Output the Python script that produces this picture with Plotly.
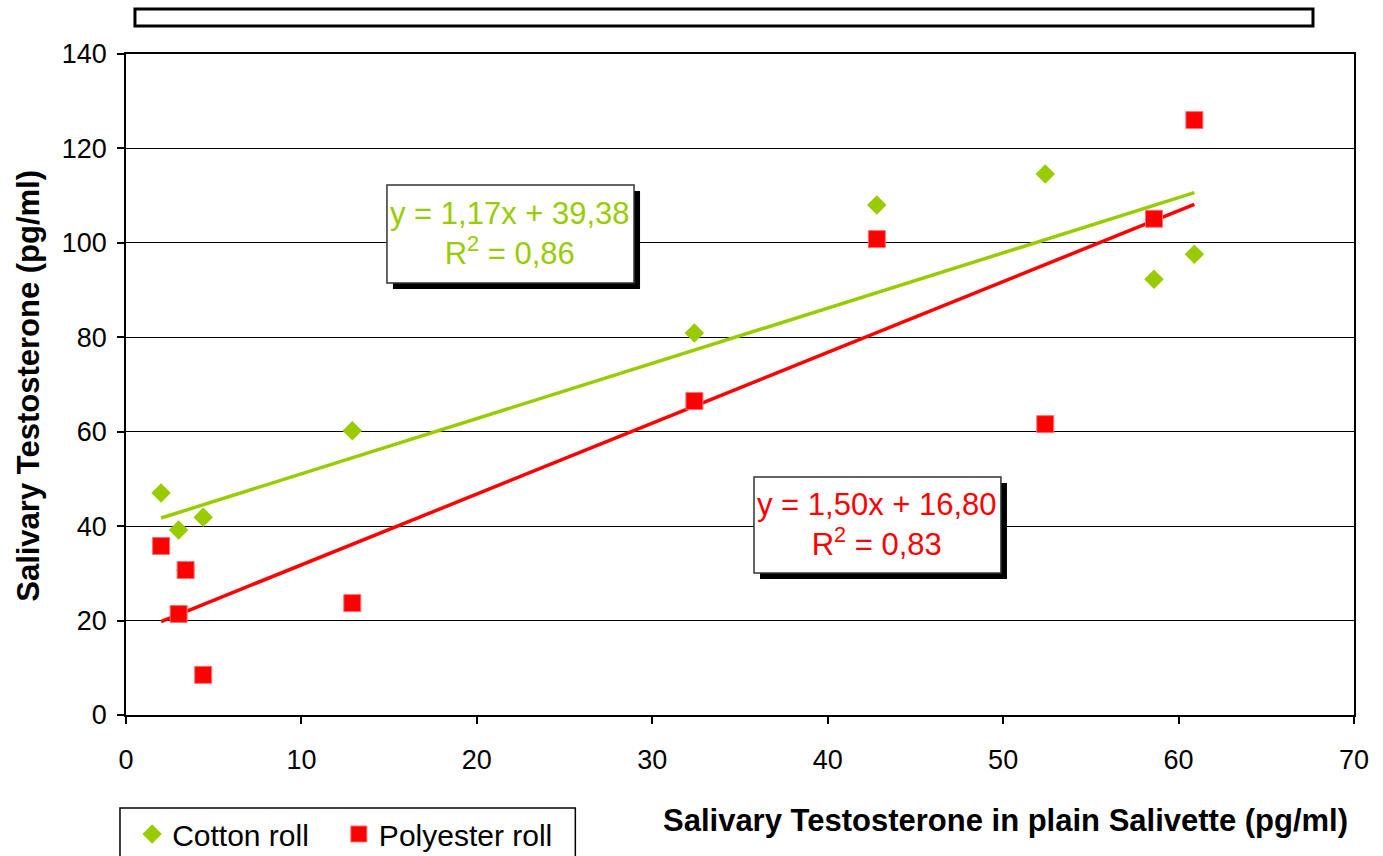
import plotly.graph_objects as go

# ---- data ----
plain_salivette = [2.0, 3.0, 3.4, 4.4, 12.9, 32.4, 42.8, 52.4, 58.6, 60.9]
cotton_roll = [47.0, 39.2, 30.7, 41.9, 60.2, 80.9, 108.0, 114.6, 92.3, 97.6]
polyester_roll = [35.8, 21.4, 30.7, 8.5, 23.7, 66.5, 100.8, 61.6, 105.1, 126.0]

series_names = ["Cotton roll", "Polyester roll"]

cotton_fit = (1.17, 39.38, 0.86)
polyester_fit = (1.50, 16.80, 0.83)

x_ticks = [0, 10, 20, 30, 40, 50, 60, 70]
y_ticks = [0, 20, 40, 60, 80, 100, 120, 140]

GREEN = "#99cc00"
RED = "#ff0000"
FONT = "Liberation Sans, Arial, sans-serif"

xmin, xmax = min(plain_salivette), max(plain_salivette)

fig = go.Figure()

# trend lines
for (slope, icpt, _), col in [(cotton_fit, GREEN), (polyester_fit, RED)]:
    fig.add_trace(go.Scatter(
        x=[xmin, xmax], y=[slope * xmin + icpt, slope * xmax + icpt],
        mode="lines", line=dict(color=col, width=3.5), showlegend=False,
        hoverinfo="skip"))

fig.add_trace(go.Scatter(
    x=plain_salivette, y=cotton_roll, mode="markers",
    name=series_names[0] + "\u00a0\u00a0\u00a0",
    marker=dict(symbol="diamond", size=15, color=GREEN, line=dict(width=0))))
fig.add_trace(go.Scatter(
    x=plain_salivette, y=polyester_roll, mode="markers",
    name=series_names[1],
    marker=dict(symbol="square", size=17, color=RED,
                line=dict(width=1, color="#ff7070"))))

shapes = []
annotations = []

# empty title box
shapes.append(dict(type="rect", xref="paper", yref="paper",
                   x0=0.0073, x1=0.9666, y0=1.0424, y1=1.0681,
                   line=dict(color="black", width=3), fillcolor="white",
                   layer="above"))

# legend frame
shapes.append(dict(type="rect", xref="paper", yref="paper",
                   x0=-0.0049, x1=0.3659, y0=-0.2300, y1=-0.1407,
                   line=dict(color="black", width=1.5),
                   fillcolor="rgba(0,0,0,0)", layer="above"))


def eq_box(x0, x1, y0, y1, text, col, shadow_dx=0.0049, shadow_dy=0.0091):
    shapes.append(dict(type="rect", xref="paper", yref="paper",
                       x0=x0 + shadow_dx, x1=x1 + shadow_dx,
                       y0=y0 - shadow_dy, y1=y1 - shadow_dy,
                       line=dict(color="black", width=0), fillcolor="black",
                       layer="above"))
    shapes.append(dict(type="rect", xref="paper", yref="paper",
                       x0=x0, x1=x1, y0=y0, y1=y1,
                       line=dict(color="#333333", width=1.5), fillcolor="white",
                       layer="above"))
    annotations.append(dict(xref="paper", yref="paper",
                            x=(x0 + x1) / 2, y=(y0 + y1) / 2,
                            xanchor="center", yanchor="middle",
                            text=text, showarrow=False, align="center",
                            font=dict(family=FONT, size=31, color=col)))


s, b, r2 = cotton_fit
eq_box(0.2125, 0.4137, 0.6536, 0.8018,
       f"y = {s:.2f}x + {b:.2f}".replace(".", ",") + "<br>" +
       f"R<sup>2</sup> = {r2:.2f}".replace(".", ","), GREEN)
s, b, r2 = polyester_fit
eq_box(0.5114, 0.7125, 0.2148, 0.3601,
       f"y = {s:.2f}x + {b:.2f}".replace(".", ",") + "<br>" +
       f"R<sup>2</sup> = {r2:.2f}".replace(".", ","), RED)

# axis titles
annotations.append(dict(xref="paper", yref="paper", x=0.7158, y=-0.1589,
                        xanchor="center", yanchor="middle",
                        text="<b>Salivary Testosterone in plain Salivette (pg/ml)</b>",
                        showarrow=False,
                        font=dict(family=FONT, size=31, color="black")))
annotations.append(dict(xref="paper", yref="paper", x=-0.0800, y=0.4977,
                        xanchor="center", yanchor="middle",
                        text="<b>Salivary Testosterone (pg/ml)</b>",
                        textangle=-90, showarrow=False,
                        font=dict(family=FONT, size=31, color="black")))

fig.update_layout(
    width=1383, height=856,
    margin=dict(l=126, r=29, t=54, b=141, autoexpand=False),
    paper_bgcolor="white", plot_bgcolor="white",
    font=dict(family=FONT, color="black"),
    showlegend=True,
    legend=dict(orientation="h", x=0.0050, xanchor="left",
                y=-0.1407, yanchor="top",
                borderwidth=0, bgcolor="rgba(0,0,0,0)",
                font=dict(family=FONT, size=30, color="black"),
                itemsizing="trace"),
    shapes=shapes, annotations=annotations,
    xaxis=dict(range=[0, 70], tickvals=x_ticks, ticks="outside", ticklen=7,
               tickwidth=1.5, tickcolor="black", showline=True,
               linecolor="black", linewidth=1.5, mirror=True,
               showgrid=False, zeroline=False,
               tickfont=dict(family=FONT, size=27, color="black"),
               ticklabelstandoff=13),
    yaxis=dict(range=[0, 140], tickvals=y_ticks, ticks="outside", ticklen=7,
               tickwidth=1.5, tickcolor="black", showline=True,
               linecolor="black", linewidth=1.5, mirror=True,
               showgrid=True, gridcolor="black", gridwidth=1,
               zeroline=False,
               tickfont=dict(family=FONT, size=27, color="black"),
               ticklabelstandoff=5),
)

fig.write_html("out.html")
